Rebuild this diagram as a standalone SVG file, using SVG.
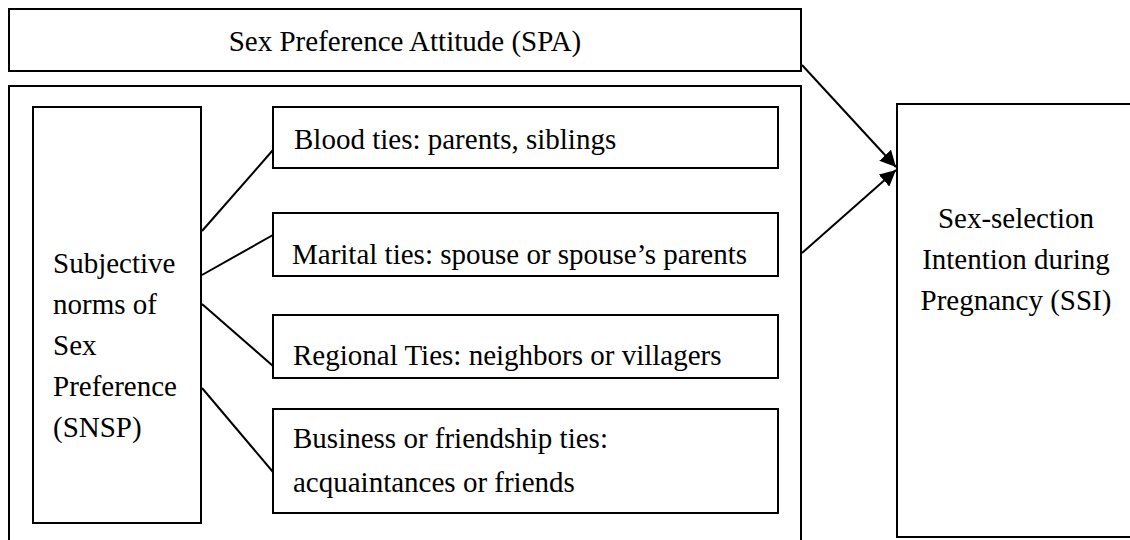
<svg xmlns="http://www.w3.org/2000/svg" width="1130" height="540" viewBox="0 0 1130 540">
<style>
.box{fill:#fff;stroke:#000;stroke-width:2}
.t{font-family:"Liberation Serif","Times New Roman",serif;font-size:29px;fill:#000}
.c{text-anchor:middle}
.ln{stroke:#000;stroke-width:2;fill:none}
</style>
<defs>
<marker id="ah" viewBox="0 0 10 10" refX="10" refY="5" markerWidth="8" markerHeight="8" orient="auto" markerUnits="strokeWidth">
<path d="M0,0 L10,5 L0,10 z" fill="#000"/>
</marker>
</defs>
<rect width="1130" height="540" fill="#fff"/>
<g id="spa">
<rect class="box" x="9" y="9" width="792" height="62"/>
<text class="t c" x="405" y="51">Sex Preference Attitude (SPA)</text>
</g>
<g id="snsp-group">
<rect class="box" x="9" y="86" width="792" height="460"/>
</g>
<g id="snsp">
<rect class="box" x="33" y="107" width="168" height="416"/>
<text class="t" x="53" y="273">Subjective</text>
<text class="t" x="53" y="314">norms of</text>
<text class="t" x="53" y="355">Sex</text>
<text class="t" x="53" y="396">Preference</text>
<text class="t" x="53" y="437">(SNSP)</text>
</g>
<g id="blood">
<rect class="box" x="273" y="107" width="505" height="61"/>
<text class="t" x="294" y="149">Blood ties: parents, siblings</text>
</g>
<g id="marital">
<rect class="box" x="273" y="213" width="505" height="63"/>
<text class="t" x="292" y="264">Marital ties: spouse or spouse’s parents</text>
</g>
<g id="regional">
<rect class="box" x="273" y="315" width="505" height="63"/>
<text class="t" x="293" y="365">Regional Ties: neighbors or villagers</text>
</g>
<g id="business">
<rect class="box" x="273" y="409" width="505" height="104"/>
<text class="t" x="293" y="448">Business or friendship ties:</text>
<text class="t" x="293" y="492">acquaintances or friends</text>
</g>
<g id="ssi">
<rect class="box" x="897" y="104" width="240" height="433"/>
<text class="t c" x="1016" y="228">Sex-selection</text>
<text class="t c" x="1016" y="269">Intention during</text>
<text class="t c" x="1016" y="310">Pregnancy (SSI)</text>
</g>
<g id="connectors">
<line class="ln" x1="202" y1="231" x2="273" y2="150"/>
<line class="ln" x1="202" y1="275" x2="273" y2="235"/>
<line class="ln" x1="202" y1="304" x2="273" y2="366"/>
<line class="ln" x1="202" y1="388" x2="273" y2="472"/>
<line class="ln" x1="802" y1="65" x2="896" y2="167" marker-end="url(#ah)"/>
<line class="ln" x1="802" y1="253" x2="896" y2="170" marker-end="url(#ah)"/>
</g>
</svg>
